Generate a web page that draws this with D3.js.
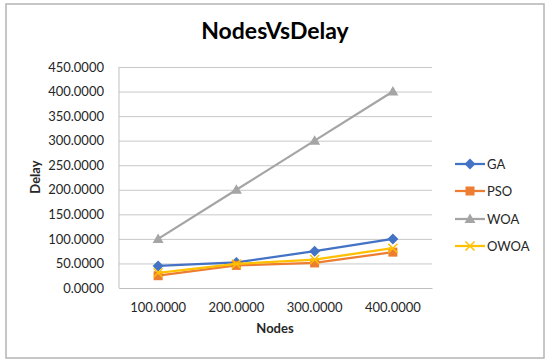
<!DOCTYPE html>
<html><head><meta charset="utf-8">
<script src="https://cdn.jsdelivr.net/npm/d3@7"></script>
<style>body{margin:0;background:#fff}svg{display:block}</style>
</head><body>
<svg id="c" width="550" height="363"></svg>
<script>
const categories = ["100.0000","200.0000","300.0000","400.0000"];
const seriesNames = ["GA","PSO","WOA","OWOA"];
const GA   = [45, 52, 75, 100];
const PSO  = [25, 46, 51, 73];
const WOA  = [100, 200, 300, 400];
const OWOA = [31, 49, 58, 81];
const yTicks = [0,50,100,150,200,250,300,350,400,450];
const colors = ["#4472C4","#ED7D31","#A5A5A5","#FFC000"];
const shapes = ["diamond","square","triangle","x"];
const series = [GA,PSO,WOA,OWOA];
const font = "Lato, 'Open Sans', sans-serif";

const svg = d3.select("#c");
svg.append("rect").attr("x",6).attr("y",4).attr("width",538).attr("height",354)
  .attr("fill","#fff").attr("stroke","#b4b4b4").attr("stroke-width",1.5);

const L=119, R=432, T=67, B=288;
const x = d3.scaleBand().domain(categories).range([L,R]);
const y = d3.scaleLinear().domain([0,450]).range([B,T]);

svg.append("text").attr("x",275).attr("y",39).attr("text-anchor","middle")
  .attr("font-family",font).attr("font-weight","bold").attr("font-size",23).attr("fill","#000").text("NodesVsDelay");

// gridlines
const grid = svg.append("g").attr("transform",`translate(${L},0)`)
  .call(d3.axisLeft(y).tickValues(yTicks).tickSize(-(R-L)).tickFormat(""));
grid.select(".domain").remove();
grid.selectAll("line").attr("stroke","#c8c8c8").attr("stroke-width",1);

// y labels
const ya = svg.append("g").attr("transform",`translate(${L},0)`)
  .call(d3.axisLeft(y).tickValues(yTicks).tickSize(0).tickPadding(15).tickFormat(d=>d.toFixed(4)));
ya.select(".domain").remove();
ya.selectAll("text").attr("font-family",font).attr("font-size",13).attr("fill","#262626");

// x axis
const xa = svg.append("g").attr("transform",`translate(0,${B})`)
  .call(d3.axisBottom(x).tickSize(0).tickPadding(15));
xa.select(".domain").attr("stroke","#bfbfbf");
xa.selectAll("text").attr("font-family",font).attr("font-size",13).attr("fill","#262626");
svg.append("line").attr("x1",L).attr("x2",L).attr("y1",T).attr("y2",B).attr("stroke","#bfbfbf");

svg.append("text").attr("transform","translate(40,177) rotate(-90)").attr("text-anchor","middle")
  .attr("font-family",font).attr("font-weight","bold").attr("font-size",13).attr("fill","#262626").text("Delay");
svg.append("text").attr("x",275).attr("y",333).attr("text-anchor","middle")
  .attr("font-family",font).attr("font-weight","bold").attr("font-size",13).attr("fill","#262626").text("Nodes");

function marker(g, shape, color, cx, cy){
  if(shape==="diamond") g.append("path").attr("d",`M${cx},${cy-5.5}L${cx+5.5},${cy}L${cx},${cy+5.5}L${cx-5.5},${cy}Z`).attr("fill",color);
  else if(shape==="square") g.append("rect").attr("x",cx-4.5).attr("y",cy-4.5).attr("width",9).attr("height",9).attr("fill",color);
  else if(shape==="triangle") g.append("path").attr("d",`M${cx},${cy-5.5}L${cx+5.5},${cy+4}L${cx-5.5},${cy+4}Z`).attr("fill",color);
  else g.append("path").attr("d",`M${cx-4.5},${cy-4.5}L${cx+4.5},${cy+4.5}M${cx-4.5},${cy+4.5}L${cx+4.5},${cy-4.5}`).attr("stroke",color).attr("stroke-width",1.5);
}

const line = d3.line().x((d,i)=>x(categories[i])+x.bandwidth()/2).y(d=>y(d));
series.forEach((s,k)=>{
  const g = svg.append("g");
  g.append("path").datum(s).attr("d",line).attr("fill","none").attr("stroke",colors[k]).attr("stroke-width",2.25);
  s.forEach((v,i)=>marker(g,shapes[k],colors[k],x(categories[i])+x.bandwidth()/2,y(v)));
});

// legend
const legY = [164,191,219,246];
seriesNames.forEach((n,k)=>{
  const g = svg.append("g");
  g.append("line").attr("x1",455).attr("x2",485).attr("y1",legY[k]).attr("y2",legY[k]).attr("stroke",colors[k]).attr("stroke-width",2.25);
  marker(g,shapes[k],colors[k],470,legY[k]);
  g.append("text").attr("x",487).attr("y",legY[k]+4.5).attr("font-family",font).attr("font-size",13).attr("fill","#262626").text(n);
});
</script>
</body></html>
